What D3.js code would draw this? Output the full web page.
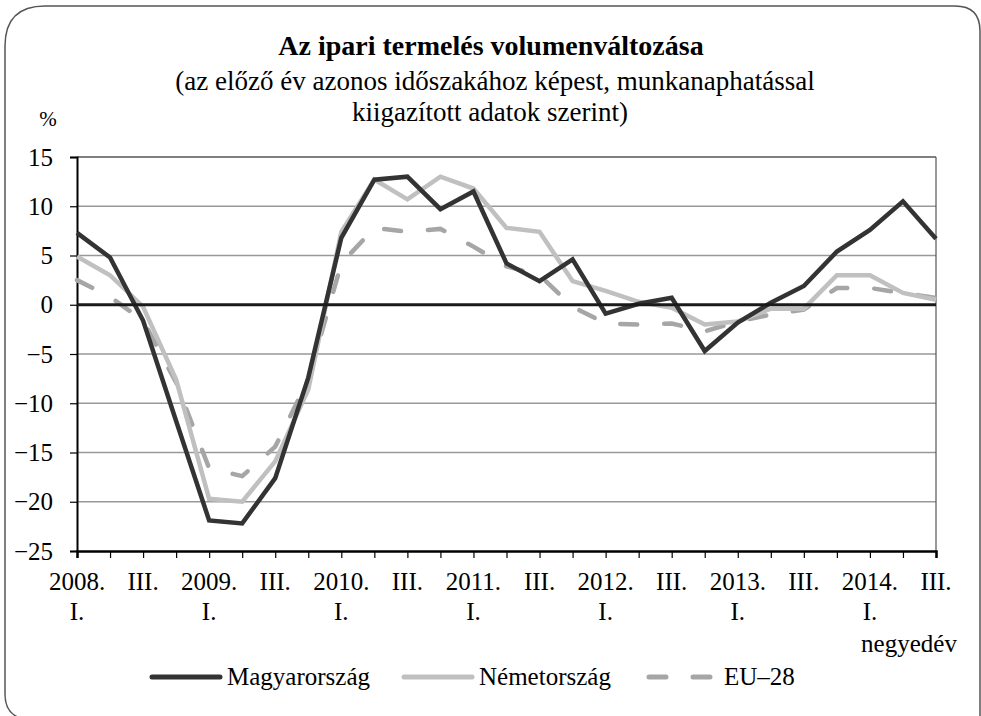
<!DOCTYPE html>
<html>
<head>
<meta charset="utf-8">
<script src="https://cdn.jsdelivr.net/npm/d3@7"></script>
<style>
  body { margin: 0; background: #fff; }
</style>
</head>
<body>
<svg width="981" height="716"></svg>
<script>
// quarters 2008 I .. 2014 III
const quarters = d3.range(27);
const topLabels = ['2008.','','III.','','2009.','','III.','','2010.','','III.','','2011.','','III.','','2012.','','III.','','2013.','','III.','','2014.','','III.'];
const bottomLabels = ['I.','','','','I.','','','','I.','','','','I.','','','','I.','','','','I.','','','','I.','',''];
const yTicks = [15, 10, 5, 0, -5, -10, -15, -20, -25];

const magyar = [7.3, 4.8, -1.6, -11.8, -21.9, -22.2, -17.6, -7.4, 6.8, 12.7, 13.0, 9.7, 11.5, 4.2, 2.4, 4.6, -0.9, 0.1, 0.7, -4.7, -1.8, 0.2, 1.9, 5.4, 7.6, 10.5, 6.7];
const nemet = [4.9, 3.0, -0.2, -7.6, -19.7, -20.0, -15.9, -8.6, 7.4, 12.7, 10.7, 13.0, 11.8, 7.8, 7.4, 2.4, 1.4, 0.3, -0.3, -2.0, -1.7, -0.4, -0.4, 3.0, 3.0, 1.2, 0.5];
const eu28 = [2.5, 0.8, -1.6, -7.9, -16.6, -17.4, -14.4, -7.6, 4.2, 7.8, 7.4, 7.7, 5.9, 3.9, 3.0, -0.2, -1.9, -2.0, -1.9, -2.7, -1.7, -1.0, -0.5, 1.7, 1.7, 1.2, 0.7];

const series = [
  {name: 'Magyarország', values: magyar, color: '#333333', dash: null},
  {name: 'Németország', values: nemet, color: '#c0c0c0', dash: null},
  {name: 'EU–28', values: eu28, color: '#a6a6a6', dash: '17,27'}
];

const FONT = '"Liberation Serif"';
const svg = d3.select('svg');

// frame
svg.append('path')
  .attr('d', 'M5,46 Q5,6 45,6 L955,6 Q980,6 980,31 L980,716 M5,46 L5,694 Q5,716 25,719')
  .attr('fill', 'none')
  .attr('stroke', '#555')
  .attr('stroke-width', 1.5);

const x = d3.scaleLinear().domain([0, 26]).range([77, 936]);
const y = d3.scaleLinear().domain([-25, 15]).range([551, 157]);

function label(txt, xx, yy, size, anchor) {
  return svg.append('text').text(txt)
    .attr('x', xx).attr('y', yy)
    .attr('text-anchor', anchor || 'middle')
    .style('font-family', FONT)
    .style('font-size', size + 'px');
}

// titles
label('Az ipari termelés volumenváltozása', 491, 55, 28).style('font-weight', 'bold');
label('(az előző év azonos időszakához képest, munkanaphatással', 495, 90, 27);
label('kiigazított adatok szerint)', 490, 121, 27);
label('%', 48, 126, 21);

// grid
svg.append('g').selectAll('line')
  .data(yTicks.filter(d => d != 0 && d != -25))
  .join('line')
  .attr('x1', x(0)).attr('x2', x(26))
  .attr('y1', d => y(d)).attr('y2', d => y(d))
  .attr('stroke', d => d == 15 ? '#555' : '#999')
  .attr('stroke-width', 1.5);

// right border
svg.append('line')
  .attr('x1', x(26)).attr('x2', x(26))
  .attr('y1', y(15)).attr('y2', y(-25))
  .attr('stroke', '#555').attr('stroke-width', 1.2);

// y axis
const yAxis = svg.append('g')
  .attr('transform', `translate(${x(0)},0)`)
  .call(d3.axisLeft(y).tickValues(yTicks).tickSize(7).tickPadding(17).tickFormat(d3.format('d')));
yAxis.select('.domain').attr('stroke', '#000').attr('stroke-width', 2);
yAxis.selectAll('.tick line').attr('stroke', '#000').attr('stroke-width', 1.2);
yAxis.selectAll('text')
  .style('font-size', '25px').style('font-family', FONT)
  .attr('fill', '#000');

// x axis
const xAxis = svg.append('g')
  .attr('transform', `translate(0,${y(-25)})`)
  .call(d3.axisBottom(x).tickValues(quarters).tickSize(7).tickFormat(''));
xAxis.select('.domain').attr('stroke', '#000').attr('stroke-width', 2.5);
xAxis.selectAll('.tick line').attr('stroke', '#000').attr('stroke-width', 1.2);

svg.append('g').selectAll('text')
  .data(quarters)
  .join('text')
  .attr('x', d => x(d)).attr('y', 590)
  .attr('text-anchor', 'middle')
  .style('font-family', FONT)
  .style('font-size', '25px')
  .text(d => topLabels[d]);
svg.append('g').selectAll('text')
  .data(quarters)
  .join('text')
  .attr('x', d => x(d)).attr('y', 620)
  .attr('text-anchor', 'middle')
  .style('font-family', FONT)
  .style('font-size', '25px')
  .text(d => bottomLabels[d]);
label('negyedév', 909, 652, 25);

// lines
const line = d3.line().x((d, i) => x(i)).y(d => y(d));

svg.append('g').selectAll('path')
  .data(series.slice().reverse())
  .join('path')
  .attr('d', d => line(d.values))
  .attr('fill', 'none')
  .attr('stroke', d => d.color)
  .attr('stroke-width', 4.5)
  .attr('stroke-dasharray', d => d.dash)
  .attr('stroke-linecap', d => d.dash ? 'round' : 'butt');

// zero line
svg.append('line')
  .attr('x1', x(0)).attr('x2', x(26))
  .attr('y1', y(0)).attr('y2', y(0))
  .attr('stroke', '#1a1a1a').attr('stroke-width', 3);

// legend
const legendX = [150, 402, 647];
const legend = svg.append('g').selectAll('g')
  .data(series)
  .join('g')
  .attr('transform', (d, i) => `translate(${legendX[i]},677)`);
legend.append('line')
  .attr('x1', 2).attr('x2', 70)
  .attr('stroke', d => d.color)
  .attr('stroke-width', 5)
  .attr('stroke-linecap', 'round')
  .attr('stroke-dasharray', d => d.dash ? '17,27' : null);
legend.append('text')
  .attr('x', 77).attr('y', 8)
  .style('font-family', FONT)
  .style('font-size', '25px')
  .text(d => d.name);
</script>
</body>
</html>
